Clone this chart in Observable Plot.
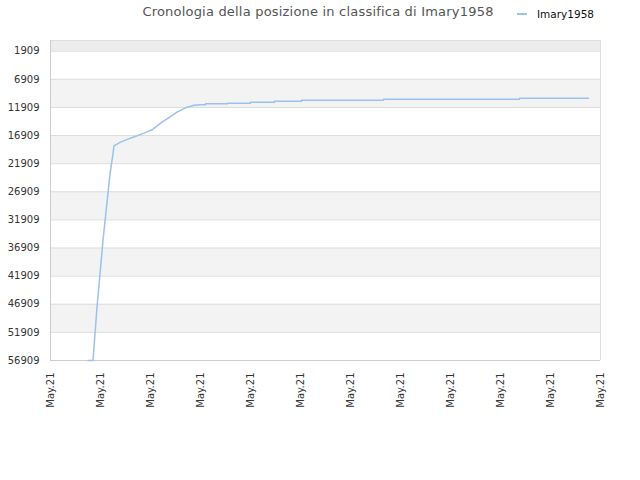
<!DOCTYPE html>
<html>
<head>
<meta charset="utf-8">
<script src="https://cdn.jsdelivr.net/npm/d3@7"></script>
<script src="https://cdn.jsdelivr.net/npm/@observablehq/plot@0.6"></script>
<style>
  body { margin: 0; background: #fff; font-family: "DejaVu Sans", sans-serif; }
  #wrap { position: relative; width: 640px; height: 480px; }
  #title { position: absolute; top: 4px; left: 0; width: 636px; text-align: center; font-size: 13px; color: #555; letter-spacing: 0.2px; }
  #legend { position: absolute; top: 8px; left: 517px; font-size: 10.5px; color: #111; display: flex; align-items: center; }
  #legend .sw { display: inline-block; width: 10px; height: 2px; background: #99c2ee; margin-right: 10px; }
  #chart { position: absolute; top: 0; left: 0; }
</style>
</head>
<body>
<div id="wrap">
  <div id="title">Cronologia della posizione in classifica di Imary1958</div>
  <div id="legend"><span class="sw"></span><span>Imary1958</span></div>
  <div id="chart"></div>
</div>
<script>
// Series: position index along the time axis (one tick = 10 units) and rank
const seriesName = "Imary1958";
const xPos = [7.5, 8.5, 9.3, 10.5, 11.9, 12.5, 12.7, 14, 16, 18.7, 20.3, 22.3, 24, 25.3, 27, 28.7, 30,
              31, 31, 35.4, 35.4, 40, 40, 44.8, 44.8, 50.2, 50.2, 66.6, 66.6, 93.8, 93.8, 107.6];
const ranks = [56909, 56909, 47430, 35570, 23710, 20150, 18750, 18080, 17370, 16480, 15880, 14530, 13520, 12750, 11970, 11500, 11440,
               11440, 11260, 11260, 11150, 11150, 10970, 10970, 10800, 10800, 10620, 10620, 10440, 10440, 10260, 10260];

// Axis ticks
const yTicks = [1909, 6909, 11909, 16909, 21909, 26909, 31909, 36909, 41909, 46909, 51909, 56909];
const xTicks = [0, 10, 20, 30, 40, 50, 60, 70, 80, 90, 100, 110];
const xTickLabel = "May.21";

// Background bands
const bandTop = [0];
const bandTopEnd = [1909];
const bandStart = [6909, 16909, 26909, 36909, 46909];
const bandEnd = [11909, 21909, 31909, 41909, 51909];

const data = xPos.map((x, i) => ({x, rank: ranks[i]}));
const topBand = bandTop.map((s, i) => ({y1: s, y2: bandTopEnd[i]}));
const bands = bandStart.map((s, i) => ({y1: s, y2: bandEnd[i]}));

const chart = Plot.plot({
  width: 640,
  height: 480,
  marginTop: 40,
  marginBottom: 120,
  marginLeft: 50,
  marginRight: 40,
  style: { fontFamily: "DejaVu Sans, sans-serif", fontSize: "10px", color: "#333", background: "transparent" },
  x: { domain: [0, 110], axis: null },
  y: { domain: [0, 56909], reverse: true, axis: null },
  marks: [
    Plot.rect(topBand, { x1: 0, x2: 110, y1: "y1", y2: "y2", fill: "#ececec" }),
    Plot.rect(bands, { x1: 0, x2: 110, y1: "y1", y2: "y2", fill: "#f3f3f3" }),
    Plot.ruleY(yTicks, { stroke: "#dddddd", strokeWidth: 1 }),
    Plot.ruleY([0], { stroke: "#dddddd" }),
    Plot.ruleX([0], { stroke: "#cccccc" }),
    Plot.ruleX([110], { stroke: "#dddddd" }),
    Plot.ruleY([56909], { stroke: "#cccccc" }),
    Plot.axisY({ ticks: yTicks, tickSize: 0, tickPadding: 11, tickFormat: d => String(d), fill: "#333", label: null }),
    Plot.axisX({ ticks: xTicks, tickSize: 0, tickPadding: 12, tickRotate: -90, tickFormat: () => xTickLabel, fill: "#333", label: null }),
    Plot.line(data, { x: "x", y: "rank", stroke: "#99c2ee", strokeWidth: 1.5 })
  ]
});
document.getElementById("chart").appendChild(chart);
</script>
</body>
</html>
